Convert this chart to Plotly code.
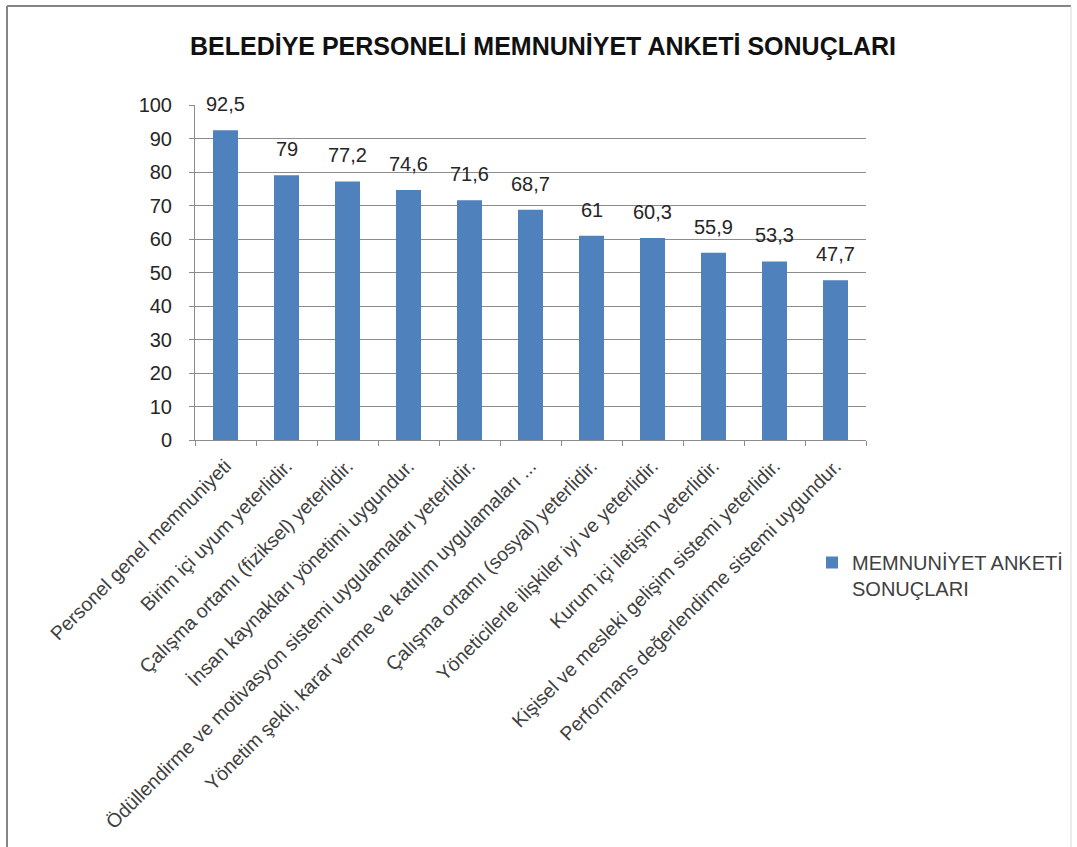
import plotly.graph_objects as go

# Survey result categories (x axis) and scores (%)
categories = [
    "Personel genel memnuniyeti",
    "Birim içi uyum yeterlidir.",
    "Çalışma ortamı (fiziksel) yeterlidir.",
    "İnsan kaynakları yönetimi uygundur.",
    "Ödüllendirme ve motivasyon sistemi uygulamaları yeterlidir.",
    "Yönetim şekli, karar verme ve katılım uygulamaları ...",
    "Çalışma ortamı (sosyal) yeterlidir.",
    "Yöneticilerle ilişkiler iyi ve yeterlidir.",
    "Kurum içi iletişim yeterlidir.",
    "Kişisel ve mesleki gelişim sistemi yeterlidir.",
    "Performans değerlendirme sistemi uygundur.",
]
scores = [92.5, 79, 77.2, 74.6, 71.6, 68.7, 61, 60.3, 55.9, 53.3, 47.7]
y_ticks = [0, 10, 20, 30, 40, 50, 60, 70, 80, 90, 100]

series_name = "MEMNUNİYET ANKETİ<br>SONUÇLARI"
chart_title = "BELEDİYE PERSONELİ MEMNUNİYET ANKETİ SONUÇLARI"

FONT = "Liberation Sans, Arial, sans-serif"
BAR_COLOR = "#4F81BD"
GRID = "#8C8C8C"


def fmt(v):
    # Turkish decimal comma, drop trailing .0
    s = f"{v:g}"
    return s.replace(".", ",")


fig = go.Figure()
fig.add_trace(
    go.Bar(
        x=categories,
        y=scores,
        name=series_name,
        marker=dict(color=BAR_COLOR, line=dict(width=0)),
        showlegend=True,
    )
)

# Value labels above each bar
for c, v in zip(categories, scores):
    fig.add_annotation(
        x=c, y=v, text=fmt(v), showarrow=False,
        xref="x", yref="y", yanchor="bottom", yshift=13,
        font=dict(family=FONT, size=20, color="#262626"),
    )

# Plot area geometry in pixels
W, H = 1077, 847
L, R, T, B = 195, 866, 105, 440
pw, ph = R - L, B - T


def px_x(x):
    return (x - L) / pw


def px_y(y):
    return (B - y) / ph


# Outer chart frame (left/top darker, right lighter)
frame = [
    (7, 6, 7, 900, "#858585", 2),
    (7, 6, 1071, 6, "#858585", 2),
    (1071, 6, 1071, 900, "#D9D9D9", 1),
]
for xa, ya, xb, yb, col, wd in frame:
    fig.add_shape(
        type="line", xref="paper", yref="paper",
        x0=px_x(xa), y0=px_y(ya), x1=px_x(xb), y1=px_y(yb),
        line=dict(color=col, width=wd), layer="below",
    )

fig.update_layout(
    width=W, height=H,
    margin=dict(l=L, r=W - R, t=T, b=H - B, autoexpand=False),
    paper_bgcolor="white",
    plot_bgcolor="white",
    bargap=0.59,
    title=dict(
        text=chart_title,
        x=543 / W, xref="container", xanchor="center",
        y=1 - 46 / H, yref="container", yanchor="middle",
        font=dict(family=FONT, size=25, color="#111111", weight="bold"),
    ),
    xaxis=dict(
        tickangle=-45,
        tickfont=dict(family=FONT, size=19.5, color="#404040"),
        showline=True, linecolor=GRID, linewidth=1,
        ticks="outside", tickson="boundaries", ticklen=5, tickcolor=GRID,
        ticklabelstandoff=6,
        showgrid=False,
        automargin=False,
    ),
    yaxis=dict(
        range=[0, 100],
        tickvals=y_ticks,
        tickfont=dict(family=FONT, size=20, color="#262626"),
        showline=True, linecolor=GRID, linewidth=1,
        ticks="outside", ticklen=5, tickcolor=GRID,
        ticklabelstandoff=13,
        showgrid=True, gridcolor=GRID, gridwidth=1,
        zeroline=False,
        automargin=False,
    ),
    legend=dict(
        x=px_x(812), y=px_y(543), xanchor="left", yanchor="top",
        xref="paper", yref="paper",
        font=dict(family=FONT, size=20, color="#404040"),
        valign="top", itemwidth=30,
        bgcolor="rgba(0,0,0,0)",
    ),
)

fig.write_html("out.html")
